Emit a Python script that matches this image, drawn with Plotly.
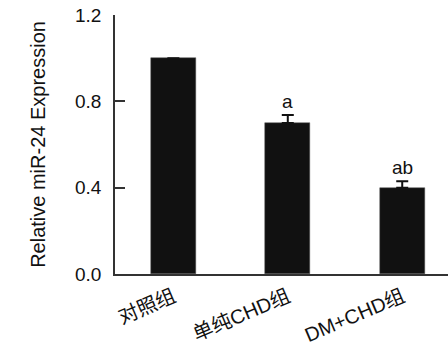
import plotly.graph_objects as go

categories = ["对照组", "单纯CHD组", "DM+CHD组"]
values = [1.0, 0.70, 0.40]
errors = [0.0, 0.037, 0.03]
sig_labels = ["", "a", "ab"]
y_ticks = [0.0, 0.4, 0.8, 1.2]
y_tick_text = ["0.0", "0.4", "0.8", "1.2"]

FONT = "Liberation Sans, Arial, Noto Sans CJK SC, sans-serif"

fig = go.Figure()
fig.add_trace(go.Bar(
    x=list(range(len(categories))),
    y=values,
    width=0.39,
    marker=dict(color="#111111", line=dict(color="#555555", width=0.5)),
    error_y=dict(type="data", array=errors, arrayminus=[0] * len(errors),
                 symmetric=False, color="#111111", thickness=2, width=6),
    hoverinfo="skip",
))

for i, (v, e, s) in enumerate(zip(values, errors, sig_labels)):
    if s:
        fig.add_annotation(x=i, y=v + e, text=s, showarrow=False,
                           yanchor="bottom", yshift=1,
                           font=dict(family=FONT, size=19, color="#111111"))

fig.update_layout(
    width=448, height=345,
    margin=dict(l=115, r=0, t=15, b=71),
    paper_bgcolor="white", plot_bgcolor="white",
    showlegend=False,
    font=dict(family=FONT, size=19, color="#111111"),
    bargap=0,
)
fig.update_xaxes(
    range=[-0.51, 2.4], automargin=False,
    tickmode="array", tickvals=list(range(len(categories))), ticktext=categories,
    tickangle=-23, showline=True, linecolor="#333333", linewidth=1.5,
    ticks="", showgrid=False, zeroline=False, ticklabelstandoff=2,
    tickfont=dict(family=FONT, size=20, color="#111111"),
)
fig.update_yaxes(
    range=[0, 1.2], automargin=False,
    tickmode="array", tickvals=y_ticks, ticktext=y_tick_text,
    ticks="inside", ticklen=10, tickwidth=1.5, tickcolor="#333333",
    showline=True, linecolor="#333333", linewidth=1.5,
    showgrid=False, zeroline=False, ticklabelstandoff=8,
    title=dict(text="Relative miR-24 Expression", standoff=24,
               font=dict(family=FONT, size=20, color="#111111")),
    tickfont=dict(family=FONT, size=19, color="#111111"),
)

fig.write_html("out.html", config={"displayModeBar": False},
               post_script="document.body.style.margin='0';document.body.style.overflow='hidden';")
